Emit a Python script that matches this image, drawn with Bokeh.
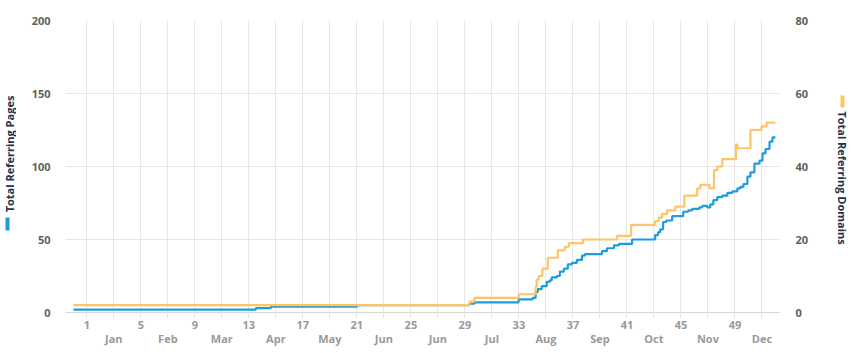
from math import pi
from bokeh.plotting import figure
from bokeh.layouts import row
from bokeh.models import Range1d, LinearAxis, FixedTicker, Label, Grid, BoxAnnotation
from bokeh.embed import file_html
from bokeh.resources import INLINE

# ---- data (x = week of year, step change points) ----
weeks_pages = [0.0, 13.52, 14.63, 21.02, 29.34, 29.71, 32.98, 34.02, 34.24, 34.39,
               34.69, 35.06, 35.28, 35.43, 35.81, 36.03, 36.33, 36.62, 36.92, 37.29,
               37.67, 37.89, 39.15, 39.52, 40.04, 40.41, 41.38, 43.09, 43.31, 43.46,
               43.68, 43.91, 44.35, 45.17, 45.54, 45.84, 46.36, 46.58, 46.95, 47.17,
               47.40, 47.69, 48.06, 48.44, 48.81, 49.18, 49.40, 49.63, 49.92, 50.15,
               50.44, 50.82, 51.04, 51.26, 51.56, 51.78, 52.00]
pages = [2, 3, 4, 5, 6, 7, 9, 10, 14, 16,
         18, 21, 22, 24, 25, 28, 30, 33, 34, 36,
         39, 40, 42, 44, 46, 47, 50, 53, 55, 57,
         62, 63, 66, 69, 70, 71, 72, 73, 72, 74,
         77, 79, 80, 82, 83, 85, 86, 88, 93, 96,
         102, 104, 109, 112, 117, 120, 120]

weeks_domains = [0.0, 29.34, 29.71, 32.98, 34.24, 34.31, 34.46, 34.74, 35.14, 35.88,
                 36.40, 36.70, 37.74, 40.27, 41.31, 43.09, 43.36, 43.61, 43.98, 44.58,
                 45.25, 46.21, 46.44, 47.11, 47.45, 47.70, 48.06, 49.07, 49.18, 50.15,
                 50.97, 51.34, 52.00]
domains = [2, 3, 4, 5, 7, 9, 10, 12, 15, 17,
           18, 19, 20, 21, 24, 25, 26, 27, 28, 29,
           32, 34, 35, 34, 39, 40, 42, 46, 45, 50,
           51, 52, 52]

grid_weeks = list(range(1, 52, 2))
label_weeks = list(range(1, 50, 4))
month_ticks = list(range(3, 52, 4))
month_labels = ["Jan", "Feb", "Mar", "Apr", "May", "Jun", "Jun", "Jul", "Aug",
                "Sep", "Oct", "Nov", "Dec"]
left_ticks = [0, 50, 100, 150, 200]
right_ticks = [0, 20, 40, 60, 80]
left_title = "Total Referring Pages"
right_title = "Total Referring Domains"

BLUE = "#1c9de0"
ORANGE = "#ffc466"
GRID = "#e6e6e6"
FONT = "Open Sans"
TITLE_COLOR = "#22324d"


def strip(width):
    # the row layout aligns this strip's frame with the chart frame (y 20..312 px),
    # so its y range is expressed as 353 - pixel row
    f = figure(width=width, height=353, output_backend="svg", toolbar_location=None,
               x_range=Range1d(0, width), y_range=Range1d(41, 333),
               x_axis_type=None, y_axis_type=None,
               min_border=0, min_border_left=0, min_border_right=0,
               min_border_top=0, min_border_bottom=0)
    f.outline_line_color = None
    f.border_fill_color = "white"
    f.background_fill_color = "white"
    return f


# ---- main chart ----
p = figure(width=818, height=353, output_backend="svg", toolbar_location=None,
           x_range=Range1d(-0.58, 52.3), y_range=Range1d(0, 200),
           x_axis_type=None, y_axis_type=None,
           min_border_left=49, min_border_right=55, min_border_top=20,
           min_border_bottom=41)
p.outline_line_color = None
p.background_fill_color = "white"
p.border_fill_color = "white"
p.extra_y_ranges = {"dom": Range1d(0, 80)}

p.add_layout(Grid(dimension=0, ticker=FixedTicker(ticks=grid_weeks),
                  grid_line_color=GRID, grid_line_width=1))
p.add_layout(Grid(dimension=1, ticker=FixedTicker(ticks=left_ticks),
                  grid_line_color=GRID, grid_line_width=1))

xa = LinearAxis(ticker=FixedTicker(ticks=grid_weeks),
                major_label_overrides={w: (str(w) if w in label_weeks else "") for w in grid_weeks})
xa.axis_line_color = "#d8d8d8"
xa.major_tick_line_color = GRID
xa.major_tick_out = 6
xa.major_tick_in = 0
xa.minor_tick_line_color = None
xa.major_label_standoff = 2
xa.major_label_text_font = FONT
xa.major_label_text_font_style = "bold"
xa.major_label_text_font_size = "11px"
xa.major_label_text_color = "#999999"
p.add_layout(xa, "below")

xm = LinearAxis(ticker=FixedTicker(ticks=month_ticks),
                major_label_overrides=dict(zip(month_ticks, month_labels)))
xm.axis_line_color = None
xm.major_tick_line_color = None
xm.major_tick_out = 0
xm.major_tick_in = 0
xm.minor_tick_line_color = None
xm.major_label_standoff = -1
xm.major_label_text_font = FONT
xm.major_label_text_font_style = "bold"
xm.major_label_text_font_size = "11px"
xm.major_label_text_color = "#999999"
p.add_layout(xm, "below")

yl = LinearAxis(ticker=FixedTicker(ticks=left_ticks))
yr = LinearAxis(ticker=FixedTicker(ticks=right_ticks), y_range_name="dom")
for ax, st in ((yl, 15), (yr, 16)):
    ax.axis_line_color = None
    ax.major_tick_line_color = None
    ax.minor_tick_line_color = None
    ax.major_tick_out = 0
    ax.major_tick_in = 0
    ax.major_label_standoff = st
    ax.major_label_text_font = FONT
    ax.major_label_text_font_style = "bold"
    ax.major_label_text_font_size = "11px"
    ax.major_label_text_color = "#606060"
p.add_layout(yl, "left")
p.add_layout(yr, "right")

p.step(weeks_pages, pages, mode="after", line_color=BLUE, line_width=2.2)
p.step(weeks_domains, domains, mode="after", line_color=ORANGE, line_width=2.2,
       y_range_name="dom")

# ---- left title strip ----
sl = strip(16)
sl.add_layout(Label(x=8.5, y=199.5, text=left_title, angle=pi / 2,
                    text_align="center", text_baseline="middle",
                    text_font=FONT, text_font_style="bold", text_font_size="11px",
                    text_color=TITLE_COLOR))
sl.add_layout(BoxAnnotation(left=5, right=9, bottom=123, top=136,
                            fill_color=BLUE, fill_alpha=1, line_color=None))

# ---- right title strip ----
sr = strip(17)
sr.add_layout(Label(x=7.5, y=175.5, text=right_title, angle=-pi / 2,
                    text_align="center", text_baseline="middle",
                    text_font=FONT, text_font_style="bold", text_font_size="11px",
                    text_color=TITLE_COLOR))
sr.add_layout(BoxAnnotation(left=6, right=10, bottom=246, top=258,
                            fill_color=ORANGE, fill_alpha=1, line_color=None))

layout = row(sl, p, sr, spacing=0)
open("out.html", "w").write(file_html(layout, INLINE))
